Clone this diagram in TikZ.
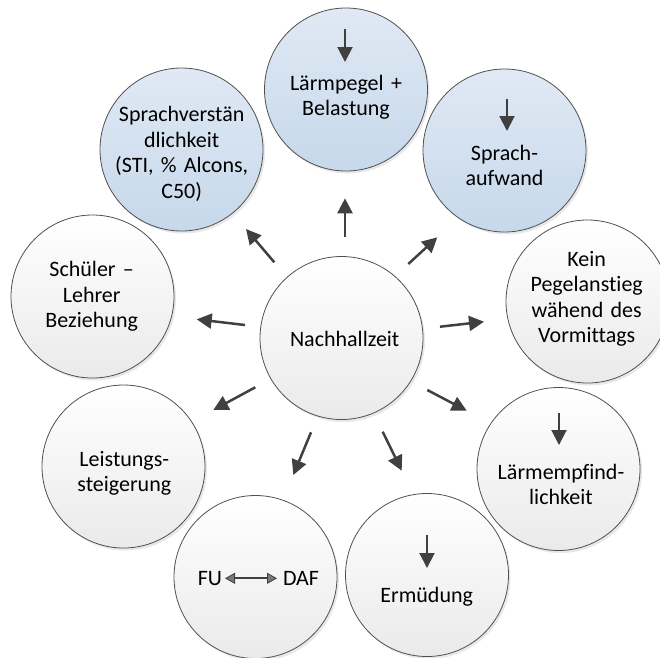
\documentclass[tikz,border=0pt]{standalone}
\usepackage{fontspec}
\setmainfont{Carlito}[Ligatures=NoCommon]
\usetikzlibrary{arrows.meta,shadows}
\definecolor{arrowc}{RGB}{64,64,64}
\definecolor{rimc}{RGB}{80,80,80}
\definecolor{bluetop}{RGB}{224,233,244}
\definecolor{bluebot}{RGB}{198,216,235}
\definecolor{greytop}{RGB}{255,255,255}
\definecolor{greybot}{RGB}{234,234,234}
\definecolor{headc}{RGB}{120,120,120}
\tikzset{
  bubble/.style={circle, minimum size=163pt, inner sep=0pt, draw=rimc, line width=0.8pt,
    drop shadow={opacity=0.18, shadow xshift=2pt, shadow yshift=-2.5pt}},
  greybubble/.style={bubble, top color=greytop, bottom color=greybot},
  bluebubble/.style={bubble, top color=bluetop, bottom color=bluebot},
  label/.style={anchor=base, inner sep=0pt, text width=170pt, align=center,
    font=\fontsize{22}{25.5}\selectfont, text=black},
  bigarrow/.style={draw=arrowc, line width=2.5pt, -{Triangle[length=15pt,width=15pt]}, arrowc},
  downarrow/.style={draw=arrowc, line width=2pt, -{Triangle[length=15pt,width=15pt]}, arrowc},
  duoarrow/.style={draw=arrowc, line width=2pt,
    {Triangle[length=10pt,width=11pt,fill=headc,line width=0.8pt]}-{Triangle[length=10pt,width=11pt,fill=headc,line width=0.8pt]}}
}
\begin{document}
\begin{tikzpicture}[x=1pt,y=-1pt]
\useasboundingbox (0,0) rectangle (660,657);
% circles
\node[greybubble] (center) at (341.5,338) {};
\node[bluebubble] (top) at (346,89.5) {};
\node[bluebubble] (sprach) at (504.5,150.5) {};
\node[greybubble] (kein) at (587.5,301.5) {};
\node[greybubble] (laerm) at (558.5,469) {};
\node[greybubble] (ermued) at (427,575) {};
\node[greybubble] (fu) at (255.5,577) {};
\node[greybubble] (leist) at (123.5,466.5) {};
\node[greybubble] (schueler) at (92.5,296.5) {};
\node[bluebubble] (verst) at (181.5,149.5) {};
% texts
\node[label] (tcenter) at (344.7,346) {Nachhallzeit};
\node[label] (ttop) at (346,90) {Lärmpegel +\\Belastung};
\node[label] (tsprach) at (504.5,160) {Sprach-\\aufwand};
\node[label] (tkein) at (586.7,266) {Kein\\Pegelanstieg\\wähend des\\Vormittags};
\node[label] (tlaerm) at (561,479) {Lärmempfind-\\lichkeit};
\node[label] (termued) at (426.7,602.5) {Ermüdung};
\node[label, text width=40pt, align=right] (tfu) at (202,585) {FU};
\node[label, text width=40pt, align=left] (tdaf) at (303,585) {DAF};
\node[label] (tverst) at (181.7,121.5) {Sprachverstän\\dlichkeit\\(STI, \% Alcons,\\C50)};
\node[label] (tschueler) at (91.7,276.7) {Schüler~–\\Lehrer\\Beziehung};
\node[label] (tleist) at (124.3,466) {Leistungs-\\steigerung};
% arrow end points
\coordinate (a1s) at (345,237.3);   \coordinate (a1e) at (345,198.3);
\coordinate (a2s) at (408.3,264);   \coordinate (a2e) at (437.3,237.3);
\coordinate (a3s) at (274.3,262.3); \coordinate (a3e) at (246,229);
\coordinate (a4s) at (245,325);     \coordinate (a4e) at (196.7,319.3);
\coordinate (a5s) at (440,326.7);   \coordinate (a5e) at (484,321.7);
\coordinate (a6s) at (427.3,390);   \coordinate (a6e) at (466.7,410.7);
\coordinate (a7s) at (255.3,387.3); \coordinate (a7e) at (213.3,410);
\coordinate (a8s) at (311,432.3);   \coordinate (a8e) at (293.3,475);
\coordinate (a9s) at (382.7,431.7); \coordinate (a9e) at (401.7,470.7);
\draw[bigarrow] (a1s) -- (a1e);
\draw[bigarrow] (a2s) -- (a2e);
\draw[bigarrow] (a3s) -- (a3e);
\draw[bigarrow] (a4s) -- (a4e);
\draw[bigarrow] (a5s) -- (a5e);
\draw[bigarrow] (a6s) -- (a6e);
\draw[bigarrow] (a7s) -- (a7e);
\draw[bigarrow] (a8s) -- (a8e);
\draw[bigarrow] (a9s) -- (a9e);
% inner down arrows
\coordinate (d1s) at (345,29);  \coordinate (d1e) at (345,62);
\coordinate (d2s) at (507,99);  \coordinate (d2e) at (507,131);
\coordinate (d3s) at (559,413); \coordinate (d3e) at (559,445);
\coordinate (d4s) at (427,535); \coordinate (d4e) at (427,568);
\draw[downarrow] (d1s) -- (d1e);
\draw[downarrow] (d2s) -- (d2e);
\draw[downarrow] (d3s) -- (d3e);
\draw[downarrow] (d4s) -- (d4e);
% FU <-> DAF
\coordinate (fl) at (225,578.3); \coordinate (fr) at (277,578.3);
\draw[duoarrow] (fl) -- (fr);
\end{tikzpicture}
\end{document}
